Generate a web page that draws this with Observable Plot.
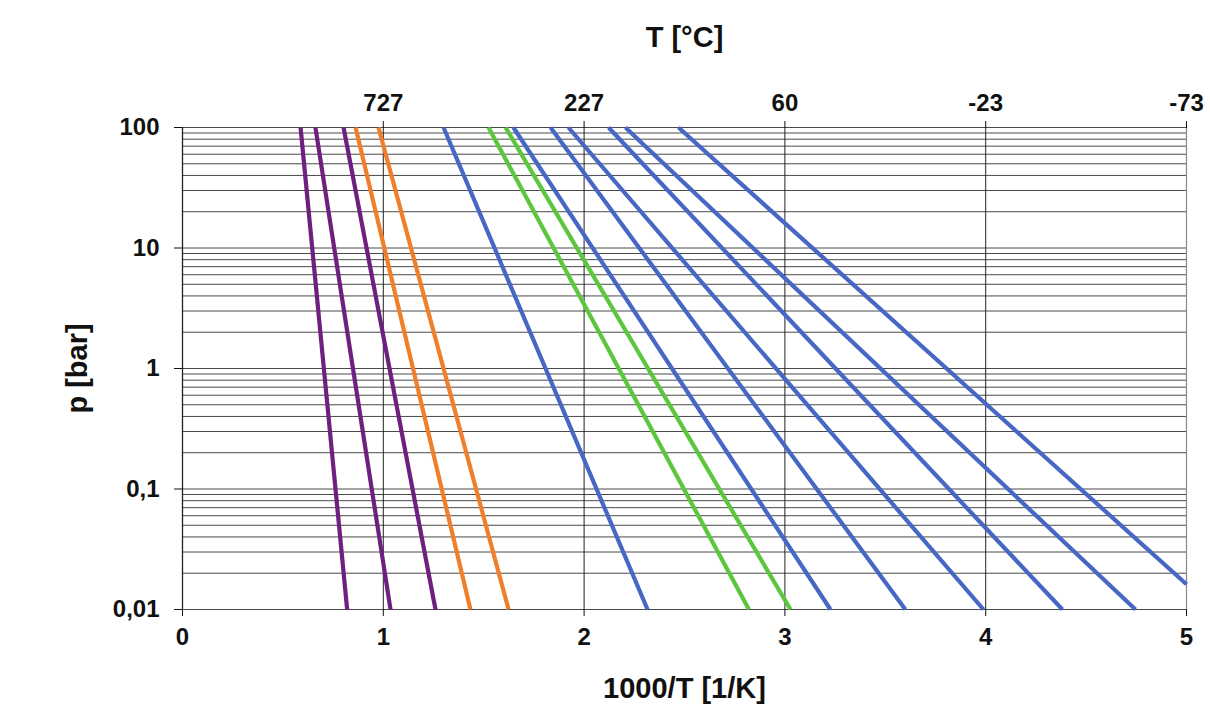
<!DOCTYPE html>
<html><head><meta charset="utf-8">
<script src="https://cdn.jsdelivr.net/npm/d3@7"></script>
<script src="https://cdn.jsdelivr.net/npm/@observablehq/plot@0.6"></script>
<style>html,body{margin:0;padding:0;background:#fff} svg{display:block}</style>
</head><body><div id="chart"></div>
<script>
// Straight lines in the (1000/T, log p) plane, each given by its two visible end points
const lineGroups = ["purple","purple","purple","orange","orange","blue","green","green","blue","blue","blue","blue","blue","blue"];
const xAtStart = [0.588, 0.662, 0.802, 0.862, 0.976, 1.300, 1.524, 1.609, 1.648, 1.833, 1.922, 2.122, 2.206, 2.470];
const pAtStart = [100, 100, 100, 100, 100, 100, 100, 100, 100, 100, 100, 100, 100, 100];
const xAtEnd   = [0.820, 1.036, 1.260, 1.434, 1.624, 2.316, 2.821, 3.028, 3.227, 3.600, 3.989, 4.382, 4.746, 5.000];
const pAtEnd   = [0.01, 0.01, 0.01, 0.01, 0.01, 0.01, 0.01, 0.01, 0.01, 0.01, 0.01, 0.01, 0.01, 0.0162];

const yTicks = [100, 10, 1, 0.1, 0.01];
const yTickLabels = ["100", "10", "1", "0,1", "0,01"];
const xTicks = [0, 1, 2, 3, 4, 5];
const xTickLabels = ["0", "1", "2", "3", "4", "5"];
const topTicks = [1, 2, 3, 4, 5];
const topTickLabels = ["727", "227", "60", "-23", "-73"];

const groupColors = {purple: "#6e1f80", orange: "#ef7f2b", blue: "#4767c4", green: "#5cc63e"};

const lines = lineGroups.map((g, i) => ({group: g, x1: xAtStart[i], p1: pAtStart[i], x2: xAtEnd[i], p2: pAtEnd[i]}));
const gridP = d3.scaleLog().domain([0.01, 100]).ticks();

const font = "'Liberation Sans', Arial, Helvetica, sans-serif";

const chart = Plot.plot({
  width: 1210,
  height: 709,
  marginLeft: 182,
  marginRight: 24,
  marginTop: 127,
  marginBottom: 100,
  style: {fontFamily: font, fontWeight: "bold", color: "#111", background: "#fff"},
  x: {domain: [0, 5]},
  y: {type: "log", domain: [0.01, 100]},
  marks: [
    Plot.ruleY(gridP, {stroke: "#4a4a4a", strokeWidth: 1}),
    Plot.ruleX([1, 2, 3, 4], {stroke: "#222", strokeWidth: 1}),
    Plot.ruleX([5], {stroke: "#8a8a8a", strokeWidth: 1.2}),
    Plot.ruleX([0], {stroke: "#222", strokeWidth: 1.3}),
    Plot.link(lines, {x1: "x1", y1: "p1", x2: "x2", y2: "p2", stroke: d => groupColors[d.group], strokeWidth: 4.2}),
    Plot.axisY({ticks: yTicks, tickFormat: d => yTickLabels[yTicks.indexOf(d)], tickSize: 8, tickPadding: 15, fontSize: 24, fontWeight: "bold", label: null}),
    Plot.axisX({anchor: "bottom", ticks: xTicks, tickFormat: d => xTickLabels[xTicks.indexOf(d)], tickSize: 7, tickPadding: 11, fontSize: 24, fontWeight: "bold", label: null}),
    Plot.axisX({anchor: "top", ticks: topTicks, tickFormat: d => topTickLabels[topTicks.indexOf(d)], tickSize: 7, tickPadding: 10, fontSize: 24, fontWeight: "bold", label: null}),
    Plot.text(["T [°C]"], {text: d => d, frameAnchor: "top", lineAnchor: "middle", textAnchor: "middle", dy: -90, fontSize: 29, fontWeight: "bold"}),
    Plot.text(["1000/T [1/K]"], {text: d => d, frameAnchor: "bottom", lineAnchor: "middle", textAnchor: "middle", dy: 79, fontSize: 29, fontWeight: "bold"}),
    Plot.text(["p [bar]"], {text: d => d, frameAnchor: "left", lineAnchor: "middle", textAnchor: "middle", dx: -105, rotate: -90, fontSize: 29, fontWeight: "bold"})
  ]
});
document.getElementById("chart").appendChild(chart);
</script>
</body></html>
